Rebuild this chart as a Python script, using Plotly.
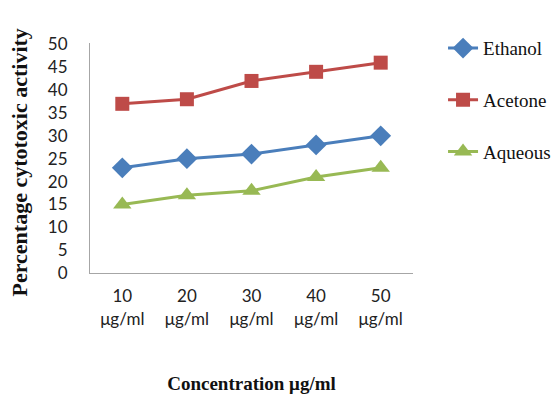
import plotly.graph_objects as go

categories = ["10<br>μg/ml", "20<br>μg/ml", "30<br>μg/ml", "40<br>μg/ml", "50<br>μg/ml"]
ethanol = [23, 25, 26, 28, 30]
acetone = [37, 38, 42, 44, 46]
aqueous = [15, 17, 18, 21, 23]

series = [
    ("Ethanol", ethanol, "#4a7ebb", "diamond", 16),
    ("Acetone", acetone, "#be4b48", "square", 14),
    ("Aqueous", aqueous, "#98b954", "triangle-up", 16),
]

fig = go.Figure()
for name, vals, color, sym, size in series:
    fig.add_trace(go.Scatter(
        x=categories, y=vals, name=name, mode="lines+markers",
        line=dict(color=color, width=3),
        marker=dict(symbol=sym, size=size, color=color),
        legendgroup=name,
    ))

serif = "Liberation Serif, Times New Roman, serif"
sans = "Lato, Open Sans, sans-serif"

fig.update_layout(
    width=557, height=396,
    margin=dict(l=90, r=144, t=43, b=123, autoexpand=False),
    paper_bgcolor="white", plot_bgcolor="white",
    font=dict(family=sans, size=17, color="#222"),
    showlegend=True,
    legend=dict(
        x=1.093, y=1.06, xanchor="left", yanchor="top",
        font=dict(family=serif, size=19, color="#111"),
        tracegroupgap=24,
        bgcolor="rgba(0,0,0,0)",
    ),
    xaxis=dict(
        type="category", range=[-0.5, 4.5],
        showline=True, linecolor="#a6a6a6", linewidth=1,
        showgrid=False, zeroline=False, ticks="",
        ticklabelstandoff=8,
        tickfont=dict(family=sans, size=17, color="#222"),
        title=dict(text="<b>Concentration μg/ml</b>", standoff=49,
                   font=dict(family=serif, size=19, color="#111")),
    ),
    yaxis=dict(
        range=[0, 50.3], tickmode="linear", tick0=0, dtick=5,
        showline=True, linecolor="#a6a6a6", linewidth=1,
        showgrid=False, zeroline=False, ticks="",
        ticklabelstandoff=18,
        tickfont=dict(family=sans, size=17, color="#222"),
    ),
    annotations=[dict(
        text="<b>Percentage cytotoxic activity</b>", textangle=-90,
        xref="paper", yref="paper", x=-0.217, y=0.48,
        xanchor="center", yanchor="middle", showarrow=False,
        font=dict(family=serif, size=22, color="#111"),
    )],
)

fig.write_html("out.html")
